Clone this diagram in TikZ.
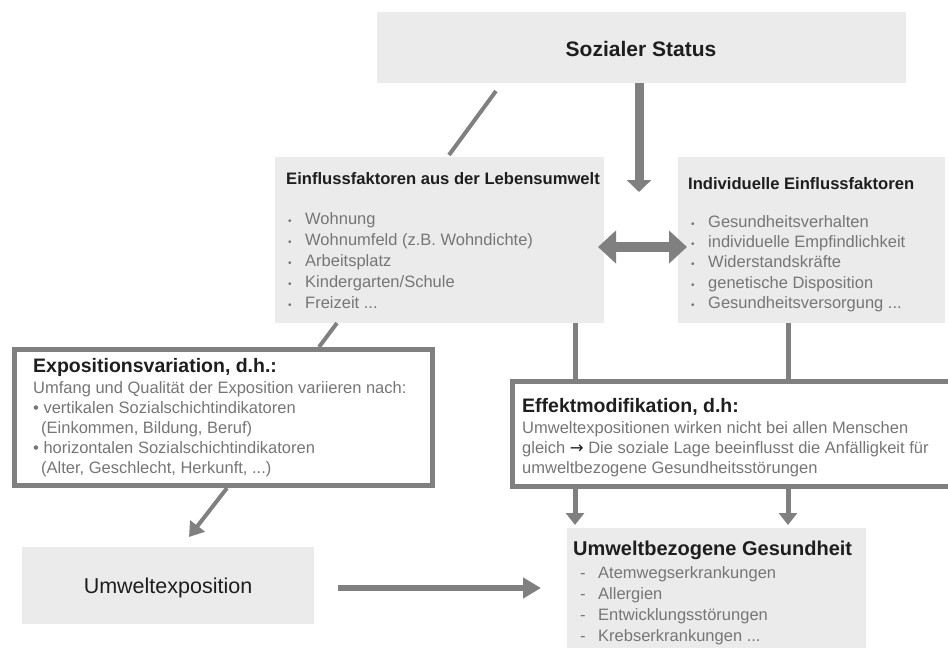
\documentclass[tikz,border=0pt]{standalone}
\usepackage{fontspec}
\setmainfont{Liberation Sans}
\newfontfamily\djv{DejaVu Sans}
\usetikzlibrary{arrows.meta,calc}
\definecolor{boxgray}{HTML}{EBEBEB}
\definecolor{lngray}{HTML}{808080}
\definecolor{txtgray}{HTML}{767676}
\definecolor{dark}{HTML}{1E1E1E}
\newcommand\mydots{...}
\begin{document}
\begin{tikzpicture}[x=1pt,y=-1pt,
  panel/.style={fill=boxgray, draw=none, inner sep=0pt, outer sep=0pt, anchor=north west},
  frame/.style={draw=lngray, line width=5pt, fill=white, inner sep=0pt, outer sep=0pt, anchor=north west},
  ttl/.style={anchor=base west, inner sep=0pt, font=\fontsize{16.6}{18}\selectfont\bfseries, text=dark},
  bigttl/.style={anchor=base west, inner sep=0pt, font=\fontsize{19.5}{22}\selectfont\bfseries, text=dark},
  item/.style={anchor=base west, inner sep=0pt, font=\fontsize{16.5}{18}\selectfont, text=txtgray},
  dot/.style={anchor=base west, inner sep=0pt, font=\fontsize{10}{12}\selectfont, text=txtgray},
  link/.style={draw=lngray, line width=4pt},
  arr/.style={draw=lngray, line width=5pt, -{Triangle[length=12pt,width=18pt]}},
]
\useasboundingbox (0,0) rectangle (948,648);

% boxes
\node[panel, minimum width=529pt, minimum height=71pt] (soz) at (377,12) {};
\node[panel, minimum width=329pt, minimum height=166pt] (leb) at (275,157) {};
\node[panel, minimum width=267pt, minimum height=166pt] (ind) at (678,157) {};
\node[frame, minimum width=418pt, minimum height=136pt] (expo) at (14.5,349.5) {};
\node[frame, minimum width=445pt, minimum height=104.5pt] (eff) at (512.5,381.5) {};
\node[panel, minimum width=292pt, minimum height=77pt] (umw) at (22,547) {};
\node[panel, minimum width=299pt, minimum height=125pt] (ges) at (567,528) {};

% Sozialer Status
\node[font=\fontsize{21}{24}\selectfont\bfseries, text=dark, inner sep=0pt] (sozt) at (641,49) {Sozialer Status};

% Lebensumwelt
\node[ttl] (lebt) at (286,184) {Einflussfaktoren aus der Lebensumwelt};
\foreach \t [count=\i] in {Wohnung, {Wohnumfeld (z.B. Wohndichte)}, Arbeitsplatz, Kindergarten/Schule, {Freizeit \mydots}} {
  \node[dot] (lebd\i) at (288,{203+21*\i}) {•};
  \node[item] (lebi\i) at (305,{203+21*\i}) {\t};
}

% Individuelle
\node[ttl] (indt) at (688,189) {Individuelle Einflussfaktoren};
\foreach \t [count=\i] in {Gesundheitsverhalten, individuelle Empfindlichkeit, Widerstandskräfte, genetische Disposition, {Gesundheitsversorgung \mydots}} {
  \node[dot] (indd\i) at (691,{207+20.3*\i}) {•};
  \node[item] (indi\i) at (708,{207+20.3*\i}) {\t};
}

% Expositionsvariation
\node[bigttl] (expt) at (33,372) {Expositionsvariation, d.h.:};
\node[item] (exp1) at (33,393) {Umfang und Qualität der Exposition variieren nach:};
\node[item] (exp2) at (33,413) {• vertikalen Sozialschichtindikatoren};
\node[item] (exp3) at (41,433) {(Einkommen, Bildung, Beruf)};
\node[item] (exp4) at (33,453) {• horizontalen Sozialschichtindikatoren};
\node[item] (exp5) at (41,473) {(Alter, Geschlecht, Herkunft, \mydots)};

% Effektmodifikation
\node[bigttl] (efft) at (522,412) {Effektmodifikation, d.h:};
\node[item] (eff1) at (522,433) {Umweltexpositionen wirken nicht bei allen Menschen};
\node[item] (eff2) at (522,453) {gleich {\djv\color{dark}→} Die soziale Lage beeinflusst die Anfälligkeit für};
\node[item] (eff3) at (522,473) {umweltbezogene Gesundheitsstörungen};

% Umweltexposition
\node[font=\fontsize{21.5}{24}\selectfont, text=dark, inner sep=0pt] (umwt) at (168,588) {Umweltexposition};

% Umweltbezogene Gesundheit
\node[bigttl, font=\fontsize{20}{22}\selectfont\bfseries] (gest) at (573,555) {Umweltbezogene Gesundheit};
\foreach \t [count=\i] in {Atemwegserkrankungen, Allergien, Entwicklungsstörungen, {Krebserkrankungen \mydots}} {
  \node[item] (gesd\i) at (580,{557+21*\i}) {-};
  \node[item] (gesi\i) at (598,{557+21*\i}) {\t};
}

% connectors
\draw[link] ($(soz.south west)+(119,8)$) -- ($(leb.north west)+(174,-2)$);
\draw[draw=lngray, line width=9pt, -{Triangle[length=12pt,width=24pt]}] ($(soz.south)+(-2.5,0)$) -- ++(0,109);
\draw[draw=lngray, line width=10pt, {Triangle[length=18pt,width=32pt]}-{Triangle[length=18pt,width=32pt]}] ($(leb.east)+(-6,7)$) -- ($(ind.west)+(9,7)$);
\draw[link] ($(leb.south west)+(62,0)$) -- ($(expo.north west)+(304.5,-2.5)$);
\draw[arr, line width=4pt, -{Triangle[length=14pt,width=18pt]}] ($(expo.south west)+(212.5,2.5)$) -- ($(umw.north west)+(167,-10)$);
\draw[arr, line width=6pt, -{Triangle[length=18pt,width=20pt]}] ($(umw.east)+(24,2.5)$) -- ($(ges.west)+(-26,-2.5)$);
\draw[link, line width=5pt] ($(leb.south west)+(300,0)$) -- ($(eff.north west)+(62.5,-2.5)$);
\draw[link, line width=5pt] ($(ind.south west)+(110,0)$) -- ($(eff.north west)+(275.5,-2.5)$);
\draw[arr] ($(eff.south west)+(62.5,2.5)$) -- ($(ges.north west)+(8,-3)$);
\draw[arr] ($(eff.south west)+(275.5,2.5)$) -- ($(ges.north west)+(221,-3)$);
\end{tikzpicture}
\end{document}
